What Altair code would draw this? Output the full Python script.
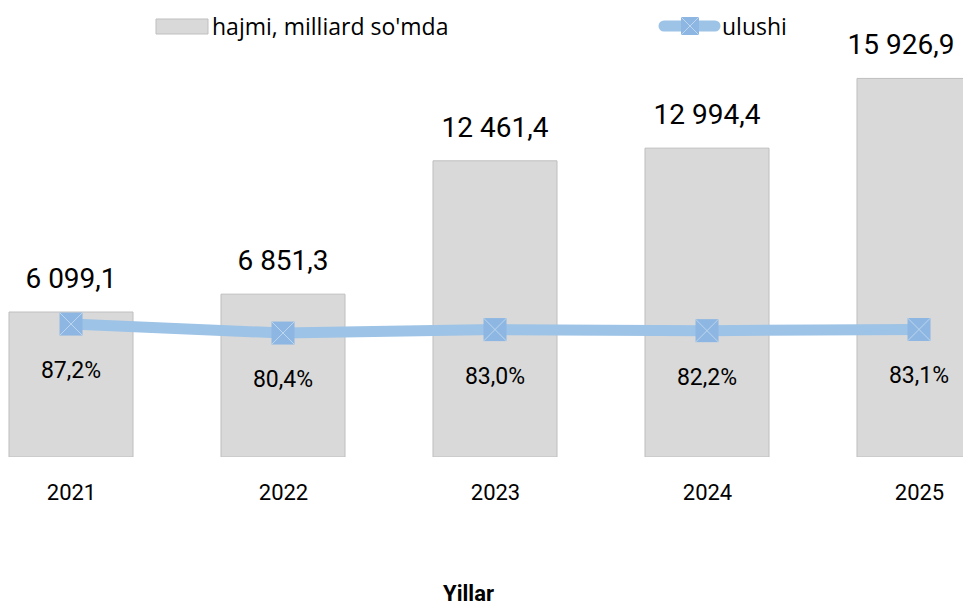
import altair as alt
import pandas as pd

years = [2021, 2022, 2023, 2024, 2025]
volumes = [6099.1, 6851.3, 12461.4, 12994.4, 15926.9]
shares = [87.2, 80.4, 83.0, 82.2, 83.1]

bar_legend = "hajmi, milliard so'mda"
line_legend = "ulushi"
x_title = "Yillar"


def fmt_num(v):
    return f"{v:,.1f}".replace(",", " ").replace(".", ",")


def fmt_pct(v):
    return f"{v:.1f}".replace(".", ",") + "%"


df = pd.DataFrame({
    "year": years,
    "volume": volumes,
    "share": shares,
    "vlabel": [fmt_num(v) for v in volumes],
    "plabel": [fmt_pct(v) for v in shares],
})

W, H = 955, 449
x0 = 2020.7028
xscale = alt.Scale(domain=[x0, x0 + W / 212.0], nice=False, zero=False)
ybar = alt.Scale(domain=[0, 18890], nice=False)
yline = alt.Scale(domain=[-13.5, 326.6], nice=False, zero=False)

base = alt.Chart(df)

bars = base.transform_calculate(
    x1="datum.year - 0.2925", x2="datum.year + 0.2925"
).mark_rect(fill="#D9D9D9", stroke="#BFBFBF", strokeWidth=1, clip=True).encode(
    x=alt.X("x1:Q", scale=xscale,
            axis=alt.Axis(values=years, format="d", grid=False, domain=False,
                          ticks=False, tickSize=0, labelFont="Roboto",
                          labelFontSize=22, labelColor="#000000",
                          labelBaseline="alphabetic", labelPadding=42,
                          title=x_title, titleFont="Roboto", titleFontSize=22,
                          titleFontWeight="bold", titleColor="#000000",
                          titleBaseline="alphabetic", titleY=143, titleX=460)),
    x2="x2:Q",
    y=alt.Y("volume:Q", scale=ybar, axis=None),
    y2=alt.value(H),
)

text_enc = dict(
    x=alt.X("year:Q", scale=xscale),
    y=alt.Y("volume:Q", scale=ybar, axis=None),
    text="vlabel:N",
)
bar_text = base.transform_filter(f"datum.year < {years[-1]}").mark_text(
    font="Roboto", fontSize=28, baseline="alphabetic", dy=-24, color="#000000"
).encode(**text_enc)
bar_text_last = base.transform_filter(f"datum.year == {years[-1]}").mark_text(
    font="Roboto", fontSize=28, baseline="alphabetic", dy=-24, dx=-18,
    color="#000000"
).encode(**text_enc)

line = base.mark_line(color="#9DC3E6", strokeWidth=11).encode(
    x=alt.X("year:Q", scale=xscale),
    y=alt.Y("share:Q", scale=yline, axis=None),
)
squares = base.mark_point(shape="square", filled=True, size=529, color="#8DB6E2",
                          opacity=1).encode(
    x=alt.X("year:Q", scale=xscale),
    y=alt.Y("share:Q", scale=yline, axis=None),
)
crosses = base.mark_point(shape="M-1,-1L1,1M-1,1L1,-1", filled=False, size=529,
                          stroke="#BDD7EE", strokeWidth=1, opacity=1).encode(
    x=alt.X("year:Q", scale=xscale),
    y=alt.Y("share:Q", scale=yline, axis=None),
)
pct_text = base.mark_text(font="Roboto", fontSize=23, baseline="alphabetic",
                          dy=54, color="#000000").encode(
    x=alt.X("year:Q", scale=xscale),
    y=alt.Y("share:Q", scale=yline, axis=None),
    text="plabel:N",
)

# legend
leg = alt.Chart(pd.DataFrame({"a": [bar_legend], "b": [line_legend]}))
leg_rect = leg.mark_rect(fill="#D9D9D9", stroke="#BFBFBF", strokeWidth=1).encode(
    x=alt.value(148), x2=alt.value(200), y=alt.value(11), y2=alt.value(26))
leg_text1 = leg.mark_text(font="Open Sans", fontSize=23, align="left",
                          baseline="alphabetic", color="#000000").encode(
    x=alt.value(204), y=alt.value(27), text="a:N")
leg_line = leg.mark_rule(color="#9DC3E6", strokeWidth=11, strokeCap="round").encode(
    x=alt.value(656), x2=alt.value(707), y=alt.value(18))
leg_sq = leg.mark_point(shape="square", filled=True, size=324, color="#8DB6E2",
                        opacity=1).encode(x=alt.value(682), y=alt.value(18))
leg_cx = leg.mark_point(shape="M-1,-1L1,1M-1,1L1,-1", filled=False, size=324,
                        stroke="#BDD7EE", strokeWidth=1, opacity=1).encode(
    x=alt.value(682), y=alt.value(18))
leg_text2 = leg.mark_text(font="Open Sans", fontSize=23, align="left",
                          baseline="alphabetic", color="#000000").encode(
    x=alt.value(714), y=alt.value(27), text="b:N")

chart = alt.layer(
    bars, bar_text, bar_text_last, line, squares, crosses, pct_text,
    leg_rect, leg_text1, leg_line, leg_sq, leg_cx, leg_text2,
).resolve_scale(y="independent").properties(
    width=W, height=H,
    autosize=alt.AutoSizeParams(type="none"),
    padding={"left": 0, "top": 0, "right": 0, "bottom": 148},
).configure_view(stroke=None)

chart.save("out.html", embed_options={"renderer": "svg", "actions": False})
